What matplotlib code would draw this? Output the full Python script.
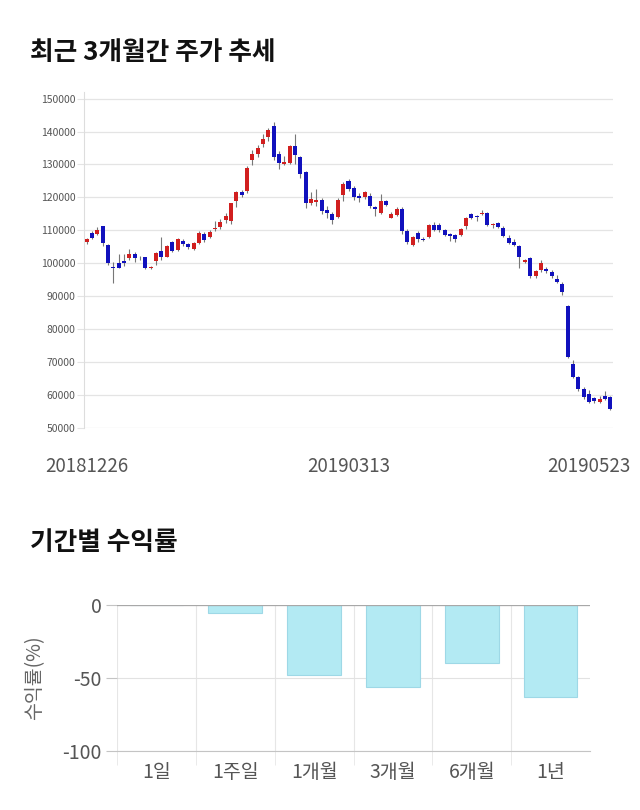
import numpy as np
import matplotlib
matplotlib.use("Agg")
import matplotlib.pyplot as plt
from matplotlib.transforms import ScaledTranslation

plt.rcParams['font.family'] = ['Noto Sans CJK KR', 'DejaVu Sans']
plt.rcParams['axes.unicode_minus'] = False

# --- daily candles 2018-12-26 .. 2019-05-23 ---
opens = [106500, 109200, 108800, 111200, 105500, 98700, 100100, 100600, 101600, 102800,
         102000, 101800, 98500, 100600, 103800, 102000, 106500, 103900, 106900, 105800,
         104300, 106100, 108800, 107900, 110300, 111000, 113000, 112800, 118900, 121500,
         121900, 131300, 133300, 136100, 138200, 141800, 133200, 130200, 130500, 135700,
         132200, 127700, 118400, 118700, 119200, 116100, 115000, 114200, 120800, 125100,
         123000, 120500, 120000, 120300, 117000, 115400, 118900, 113900, 114600, 116600,
         109700, 105500, 109300, 107500, 108100, 111500, 111500, 110100, 108800, 108500,
         108500, 111300, 114900, 114300, 115100, 115200, 111600, 112100, 110800, 107600,
         106400, 105200, 100500, 101500, 96100, 97900, 98400, 97500, 95100, 93800,
         87000, 69300, 65500, 61900, 60200, 59000, 57900, 59700, 59500]
closes = [107300, 107800, 110000, 106300, 100000, 98500, 98700, 100200, 102800, 101500,
          101800, 98600, 99000, 103000, 102000, 105300, 103700, 107400, 105800, 104800,
          106100, 109200, 107200, 109500, 110800, 112500, 114400, 118200, 121500, 120700,
          128800, 133300, 134900, 137800, 140500, 132400, 130400, 130900, 135600, 132800,
          127000, 118200, 119600, 119200, 115800, 115400, 113100, 119300, 124200, 122500,
          120000, 119800, 121500, 117500, 116500, 118900, 117700, 115100, 116600, 109700,
          106500, 108000, 107300, 107000, 111600, 110100, 110100, 108500, 108300, 107500,
          110300, 113900, 113900, 114100, 115300, 111500, 112000, 111100, 108300, 106200,
          105500, 102000, 100900, 96100, 97700, 100000, 97700, 96100, 94400, 91400,
          71600, 65500, 61900, 59500, 57900, 58200, 58700, 58900, 55800]
highs = [107800, 109800, 111000, 111400, 105800, 100500, 102700, 102900, 104200, 103300,
         102300, 102000, 99300, 103300, 108000, 105600, 106800, 107700, 107500, 106300,
         106500, 109900, 109600, 110000, 112800, 113300, 115300, 118400, 121800, 122300,
         129600, 134400, 136000, 139200, 141000, 142800, 134000, 132700, 136000, 139200,
         132500, 127900, 121600, 122700, 119700, 117300, 115500, 119800, 124800, 125500,
         123500, 121300, 121900, 121400, 117400, 120900, 119300, 115500, 117200, 117000,
         110400, 108300, 109700, 107900, 111900, 112600, 112300, 110400, 109200, 108800,
         110700, 114200, 115300, 114600, 116300, 115600, 112300, 112400, 111200, 108600,
         107300, 105500, 101200, 101800, 98000, 100900, 98800, 97900, 96300, 94400,
         87200, 70700, 65800, 62400, 61500, 59300, 59800, 61300, 59800]
lows = [106000, 107500, 108500, 105400, 99500, 93900, 98500, 99300, 100900, 100300,
        101000, 98400, 98300, 99500, 101000, 101900, 103300, 103600, 105300, 104300,
        104000, 105900, 106400, 107700, 109800, 110500, 112300, 112000, 117000, 120000,
        121200, 129700, 132300, 135300, 137000, 131500, 128600, 129800, 130100, 130200,
        126000, 116900, 117600, 117300, 115000, 113900, 111800, 113600, 119000, 122000,
        119200, 118500, 119600, 116800, 114500, 115000, 117300, 113600, 114300, 108800,
        105900, 105200, 106400, 106700, 107800, 109700, 109400, 108200, 106800, 106600,
        108200, 110300, 113500, 112700, 114800, 111200, 110800, 110800, 107900, 105900,
        105200, 98500, 100200, 95500, 95500, 97500, 97200, 95400, 94100, 90300,
        71400, 65200, 61200, 58700, 57500, 57700, 57700, 58600, 55500]
date_ticks = [0, 49, 98]
date_labels = ['20181226', '20190313', '20190523']
price_ticks = list(range(50000, 150001, 10000))

# --- period returns ---
periods = ['1일', '1주일', '1개월', '3개월', '6개월', '1년']
returns = [0, -5.2, -47.7, -56.4, -39.8, -63.2]

fig = plt.figure(figsize=(6.4, 8.1), dpi=100)

fig.text(30 / 640, 1 - 52 / 810, '최근 3개월간 주가 추세', fontsize=18.5, fontweight='bold',
         color='#111111', va='center', ha='left')
fig.text(30 / 640, 1 - 543 / 810, '기간별 수익률', fontsize=18.5, fontweight='bold',
         color='#111111', va='center', ha='left')

# candle chart
ax = fig.add_axes([84 / 640, 1 - 428 / 810, 529 / 640, 336 / 810])
o = np.array(opens)
c = np.array(closes)
idx = np.arange(len(o))
up = c >= o
colors = np.where(up, '#d11f1f', '#1111bd')
ax.vlines(idx, lows, highs, color='#777777', lw=0.8, zorder=2)
ax.bar(idx, np.maximum(np.abs(c - o), 250), bottom=np.minimum(o, c), width=0.75,
       color=colors, zorder=3)
ax.set_xlim(-0.5, len(o) - 0.5)
ax.set_ylim(50000, 152000)
ax.set_yticks(price_ticks)
ax.set_yticklabels([str(p) for p in price_ticks])
ax.grid(axis='y', color='#e4e4e4', lw=0.9)
ax.set_axisbelow(True)
for s in ['top', 'right', 'bottom']:
    ax.spines[s].set_visible(False)
ax.spines['left'].set_color('#dddddd')
ax.tick_params(axis='y', length=5, color='#e4e4e4', labelsize=7.5, labelcolor='#555555', pad=1)
ax.set_xticks(date_ticks)
ax.set_xticklabels(date_labels)
ax.tick_params(axis='x', length=0, labelsize=13.5, labelcolor='#555555', pad=20)
last = ax.get_xticklabels()[-1]
last.set_ha('right')
last.set_transform(last.get_transform() + ScaledTranslation(20 / 100, 0, fig.dpi_scale_trans))

# returns bar chart
ax2 = fig.add_axes([117 / 640, 1 - 751 / 810, 473 / 640, 146 / 810])
pos = np.arange(len(periods)) + 0.5
ax2.bar(pos, returns, width=0.68, color='#b3eaf3', edgecolor='#9ed8e6', lw=0.8, zorder=3)
ax2.set_xlim(0, len(periods))
ax2.set_ylim(-100, 0)
ax2.set_yticks([0, -50, -100])
ax2.set_xticks(pos)
ax2.set_xticklabels(periods)
ax2.set_xticks(np.arange(len(periods)), minor=True)
ax2.grid(axis='x', which='minor', color='#e6e6e6', lw=0.8)
ax2.grid(axis='y', which='major', color='#e2e2e2', lw=0.8)
ax2.axhline(0, color='#a8a8a8', lw=0.9, zorder=4)
for s in ['top', 'right', 'left']:
    ax2.spines[s].set_visible(False)
ax2.spines['bottom'].set_color('#c4c4c4')
ax2.tick_params(axis='x', which='major', length=0, labelsize=14, labelcolor='#555555', pad=8)
ax2.tick_params(axis='x', which='minor', length=10, color='#e6e6e6')
ax2.tick_params(axis='y', length=8, color='#c4c4c4', labelsize=14, labelcolor='#555555', pad=3)
ax2.set_ylabel('수익률(%)', fontsize=14, color='#666666')
ax2.yaxis.set_label_coords(-0.152, 0.5)

plt.savefig('out.png', dpi=100)
